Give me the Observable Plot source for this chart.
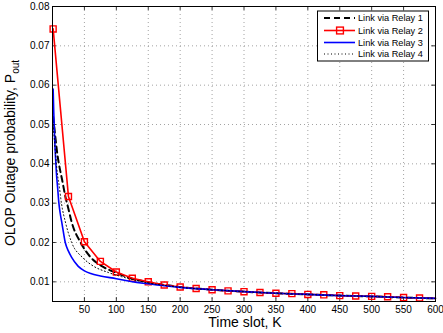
<!DOCTYPE html>
<html><head><meta charset="utf-8">
<script src="https://cdn.jsdelivr.net/npm/d3@7"></script>
<script src="https://cdn.jsdelivr.net/npm/@observablehq/plot@0.6"></script>
<style>body{margin:0;background:#fff} svg{display:block}</style>
</head><body><div id="chart"></div>
<script>
const seriesNames = ["Link via Relay 1", "Link via Relay 2", "Link via Relay 3", "Link via Relay 4"];

const kRelay1 = [1, 3, 5, 8, 10, 15, 20, 25, 30, 44, 60, 76, 92, 100, 125, 150, 175, 200, 250, 300, 350, 400, 450, 500, 550, 600];
const pRelay1 = [0.052, 0.049, 0.046, 0.042, 0.040, 0.036, 0.0318, 0.0285, 0.0252, 0.0200, 0.0162, 0.0141, 0.0128, 0.0123, 0.0108, 0.0099, 0.0092, 0.0087, 0.0080, 0.0075, 0.0071, 0.0068, 0.0065, 0.0063, 0.0060, 0.0058];

const kRelay2 = [1, 25, 50, 75, 100, 125, 150, 175, 200, 225, 250, 275, 300, 325, 350, 375, 400, 425, 450, 475, 500, 525, 550, 575, 600];
const pRelay2 = [0.0743, 0.0317, 0.0202, 0.0152, 0.0125, 0.0109, 0.0100, 0.0092, 0.0087, 0.0083, 0.0080, 0.0077, 0.0075, 0.0073, 0.0071, 0.0070, 0.0068, 0.0067, 0.0065, 0.0064, 0.0063, 0.0062, 0.0060, 0.0059, 0.0058];

const kRelay3 = [1, 2, 3, 4, 5, 6, 8, 10, 12, 15, 20, 25, 30, 40, 50, 60, 75, 100, 125, 150, 175, 200, 250, 300, 350, 400, 450, 500, 550, 600];
const pRelay3 = [0.059, 0.053, 0.048, 0.044, 0.041, 0.038, 0.034, 0.030, 0.0275, 0.0247, 0.0200, 0.0178, 0.0162, 0.0140, 0.0128, 0.0121, 0.0115, 0.0108, 0.0100, 0.0095, 0.0090, 0.0086, 0.0080, 0.0075, 0.0071, 0.0068, 0.0065, 0.0063, 0.0060, 0.0058];

const kRelay4 = [1, 3, 5, 8, 10, 14, 21, 30, 47, 63, 87, 100, 125, 150, 175, 200, 250, 300, 350, 400, 450, 500, 550, 600];
const pRelay4 = [0.050, 0.046, 0.042, 0.037, 0.035, 0.030, 0.0247, 0.0200, 0.0162, 0.0141, 0.0124, 0.0117, 0.0106, 0.0097, 0.0091, 0.0086, 0.0080, 0.0075, 0.0071, 0.0068, 0.0065, 0.0063, 0.0060, 0.0058];

const xTicks = [50, 100, 150, 200, 250, 300, 350, 400, 450, 500, 550, 600];
const yTicks = [0.01, 0.02, 0.03, 0.04, 0.05, 0.06, 0.07, 0.08];
const xTitle = "Time slot, K";
const yTitle = "OLOP Outage probability, P";
const ySub = "out";

const rows = (ks, ps) => ks.map((k, i) => ({k, p: ps[i]}));
const r1 = rows(kRelay1, pRelay1), r2 = rows(kRelay2, pRelay2), r3 = rows(kRelay3, pRelay3), r4 = rows(kRelay4, pRelay4);

const X0 = 0, X1 = 600, Y0 = 0.005, Y1 = 0.08;
const font = "'Liberation Sans', Arial, Helvetica, sans-serif";

const plot = Plot.plot({
  width: 443, height: 333,
  marginLeft: 52, marginRight: 8, marginTop: 6, marginBottom: 32,
  style: {fontFamily: font, fontSize: "10px", background: "#fff", color: "#000"},
  x: {domain: [X0, X1]},
  y: {domain: [Y0, Y1]},
  marks: [
    Plot.gridX(xTicks, {stroke: "#8c8c8c", strokeOpacity: 1, strokeDasharray: "1,3", strokeWidth: 0.8}),
    Plot.gridY(yTicks, {stroke: "#8c8c8c", strokeOpacity: 1, strokeDasharray: "1,3", strokeWidth: 0.8}),
    Plot.axisX({ticks: xTicks, tickSize: 0, tickPadding: 4, label: null, tickFormat: d => String(d), fontSize: "10px"}),
    Plot.axisY({ticks: yTicks, tickSize: 0, tickPadding: 3, label: null, tickFormat: d3.format(".2f"), fontSize: "10px"}),
    Plot.ruleX(xTicks, {x: d => d, y1: Y0, y2: Y0 + 0.001, stroke: "#000", strokeWidth: 0.8}),
    Plot.ruleX(xTicks, {x: d => d, y1: Y1, y2: Y1 - 0.001, stroke: "#000", strokeWidth: 0.8}),
    Plot.ruleY(yTicks, {y: d => d, x1: X0, x2: X0 + 6, stroke: "#000", strokeWidth: 0.8}),
    Plot.ruleY(yTicks, {y: d => d, x1: X1, x2: X1 - 6, stroke: "#000", strokeWidth: 0.8}),
    Plot.line(r1, {x: "k", y: "p", stroke: "#000", strokeWidth: 2, strokeDasharray: "6,4", curve: "monotone-x"}),
    Plot.line(r2, {x: "k", y: "p", stroke: "#ff0000", strokeWidth: 1.6}),
    Plot.dot(r2.filter(d => d.k < 600), {x: "k", y: "p", symbol: "square", r: 3.4, stroke: "#ff0000", strokeWidth: 1.4, fill: "none"}),
    Plot.line(r3, {x: "k", y: "p", stroke: "#0000ff", strokeWidth: 1.6, curve: "monotone-x"}),
    Plot.line(r4, {x: "k", y: "p", stroke: "#000", strokeWidth: 1, strokeDasharray: "1,2.5", curve: "monotone-x"}),
    Plot.frame({stroke: "#000", strokeWidth: 1})
  ]
});

const svg = d3.select(plot);
// axis titles
svg.append("text")
  .attr("x", 245).attr("y", 327)
  .attr("text-anchor", "middle")
  .style("font-family", font).style("font-size", "14px").attr("fill", "#000")
  .text(xTitle);
const yt = svg.append("text")
  .attr("transform", "translate(15,153) rotate(-90)")
  .attr("text-anchor", "middle")
  .style("font-family", font).style("font-size", "14px").attr("fill", "#000");
yt.append("tspan").text(yTitle);
yt.append("tspan").attr("dy", 4).style("font-size", "10px").text(ySub);

// legend
const lg = svg.append("g").attr("text-anchor", "start");
lg.append("rect").attr("x", 317.5).attr("y", 11).attr("width", 111).attr("height", 50)
  .attr("fill", "#fff").attr("stroke", "#000").attr("stroke-width", 1);
const legendStyles = [
  {stroke: "#000", w: 2, dash: "6,4"},
  {stroke: "#ff0000", w: 1.6, dash: null, marker: true},
  {stroke: "#0000ff", w: 1.6, dash: null},
  {stroke: "#000", w: 1, dash: "1,2.5"}
];
const rowY = [18, 30.5, 42.5, 54];
seriesNames.forEach((name, i) => {
  const s = legendStyles[i];
  const l = lg.append("line").attr("x1", 324).attr("x2", 355).attr("y1", rowY[i]).attr("y2", rowY[i])
    .attr("stroke", s.stroke).attr("stroke-width", s.w);
  if (s.dash) l.attr("stroke-dasharray", s.dash);
  if (s.marker) lg.append("rect").attr("x", 336.6).attr("y", rowY[i] - 3.4).attr("width", 6.8).attr("height", 6.8)
    .attr("fill", "none").attr("stroke", "#ff0000").attr("stroke-width", 1.4);
  lg.append("text").attr("x", 358).attr("y", rowY[i] + 3.3).attr("text-anchor", "start")
    .style("font-family", font).style("font-size", "9.2px").attr("fill", "#000").text(name);
});

document.getElementById("chart").appendChild(plot);
</script>
</body></html>
